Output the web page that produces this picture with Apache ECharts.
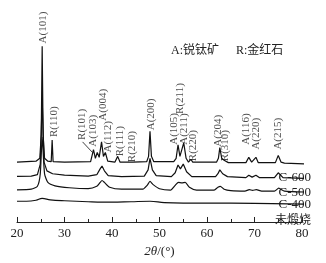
<!DOCTYPE html>
<html>
<head>
<meta charset="utf-8">
<script src="https://cdn.jsdelivr.net/npm/echarts@6/dist/echarts.min.js"></script>
<style>
  html, body { margin: 0; padding: 0; background: #fff; }
  #chart { width: 326px; height: 263px; }
</style>
</head>
<body>
<div id="chart"></div>
<script>
// 2θ (°) vs relative intensity, curves already offset vertically
const c600 = [[20,62],[22,62.5],[24,63],[24.8,66],[25.1,90],[25.3,182],[25.5,90],[25.8,66],[26.5,63],[27.2,62.5],[27.4,85],[27.6,62.5],
  [30,62],[35.5,62.5],[36.1,75],[36.5,66],[36.9,72],[37.3,67],[37.8,83],[38.2,68],[38.6,72],[39.1,63],[40.6,62],[41.2,68],[41.7,62],
  [43.6,62],[44.0,64],[44.4,62],[47.3,62.5],[47.7,68],[48.0,94],[48.3,68],[48.8,62.5],[53.0,62.5],[53.5,66],[53.9,80],[54.3,68],
  [54.6,70],[55.1,82],[55.6,66],[56.1,62],[56.6,65],[57.0,62],[62.0,62],[62.4,66],[62.7,77],[63.1,66],[63.6,64],[64.0,65],[64.5,61.5],
  [68.2,61.5],[68.8,67],[69.4,62],[69.8,62],[70.3,67],[70.8,61.5],[74.4,61.5],[75.0,69],[75.6,62],[76.3,61],[81.5,60]]
const c500 = [[20,47.3],[23,47.5],[24.3,49],[24.9,60],[25.3,127],[25.7,62],[26.3,53],[27.5,50],[30,48.5],[35,47.5],[36.8,49],[37.5,55],
  [37.9,58],[38.4,53],[39.2,48],[42,47],[46.8,47.5],[47.6,54],[48.0,66],[48.5,54],[49.3,48],[52.5,47],[53.3,51],[53.9,59],[54.4,55],
  [55.0,60],[55.7,52],[56.8,47],[61.8,47],[62.3,50],[62.7,54],[63.3,50],[64.3,47],[68.2,46],[68.8,48.5],[69.5,46.5],[70.3,48.5],
  [71.0,46],[74.2,46],[75.0,51],[76.0,46],[81.5,45]]
const c400 = [[20,33.3],[23,34],[24.3,37],[24.9,50],[25.3,88],[25.8,50],[26.5,41],[28,37.5],[31,35.5],[35,34.5],[36.8,37],[37.5,41],
  [37.9,43],[38.4,41],[39.5,36],[42,34],[46.5,34],[47.4,38],[48.0,42],[48.6,39],[50,34.5],[52.3,33],[53.3,38],[54.0,41],[54.7,40.5],
  [55.4,41],[56.3,36],[57.8,33],[61.5,33],[62.3,36],[62.8,37],[63.6,34],[65,32.5],[68,32],[68.9,33.5],[69.6,32.8],[70.4,33.5],
  [71.5,32],[74.2,32],[75.1,35],[76.3,32],[81.5,31]]
const uncalcined = [[20,21.5],[22,21.5],[24,22.5],[25.3,24.5],[27,23],[30,22],[35,21],[40,20.5],[44,21],[48,21.5],[51,20],
  [55,19.5],[60,19.5],[70,19.3],[81.5,18.5]]

// peak labels: [text, 2θ, value at label foot]
const peakLabels = [
  ['A(101)', 25.4, 185], ['R(110)', 27.8, 88], ['R(101)', 33.7, 85], ['A(103)', 36.0, 78],
  ['A(004)', 38.1, 105], ['A(112)', 39.2, 72], ['R(111)', 41.7, 68], ['R(210)', 44.2, 62],
  ['A(200)', 48.2, 95], ['A(105)', 53.1, 80], ['R(211)', 54.3, 112], ['A(211)', 55.2, 80],
  ['R(220)', 57.1, 63], ['A(204)', 62.3, 78], ['R(310)', 63.8, 63], ['A(116)', 68.2, 80],
  ['A(220)', 70.3, 75], ['A(215)', 75.0, 75]
]
const leaderR101 = [[33.8, 83], [35.9, 72]]
const xTicks = { min: 20, max: 80, interval: 10 }

const serif = '"Liberation Serif", "Noto Sans CJK SC", serif'
const myChart = echarts.init(document.getElementById('chart'))

function curve(data, smooth) {
  return {
    type: 'line',
    data: data,
    symbol: 'none',
    smooth: smooth,
    clip: false,
    silent: true,
    lineStyle: { color: '#111', width: 1.2 }
  }
}

const option = {
  animation: false,
  grid: { left: 17, right: 24, top: 0, bottom: 33 },
  xAxis: {
    type: 'value',
    min: xTicks.min,
    max: xTicks.max,
    interval: xTicks.interval,
    name: '{i|2θ}/(°)',
    nameLocation: 'middle',
    nameGap: 23,
    nameTextStyle: {
      fontFamily: serif, fontSize: 13, color: '#222',
      rich: { i: { fontFamily: serif, fontSize: 13, fontStyle: 'italic', color: '#222' } }
    },
    axisLine: { lineStyle: { color: '#222', width: 1 } },
    axisTick: { inside: true, length: 5, lineStyle: { color: '#222' } },
    minorTick: { show: true, splitNumber: 2, length: 3, lineStyle: { color: '#222' } },
    axisLabel: { fontFamily: serif, fontSize: 13, color: '#222', margin: 5 },
    splitLine: { show: false }
  },
  yAxis: { type: 'value', min: 0, max: 230, show: false },
  series: [
    curve(c600, false),
    curve(c500, false),
    curve(c400, 0.2),
    curve(uncalcined, 0.4),
    {
      type: 'line', data: leaderR101, symbol: 'none', silent: true,
      lineStyle: { color: '#111', width: 0.8 }
    },
    {
      type: 'scatter',
      silent: true,
      symbolSize: 0,
      itemStyle: { color: 'transparent' },
      data: peakLabels.map(p => ({ value: [p[1], p[2]], name: p[0] })),
      label: {
        show: true,
        position: 'inside',
        rotate: 90,
        align: 'left',
        verticalAlign: 'middle',
        formatter: '{b}',
        fontFamily: serif,
        fontSize: 11,
        color: '#222'
      }
    }
  ],
  graphic: [
    { type: 'text', left: 171, top: 45, style: { text: 'A:锐钛矿', font: '12px ' + serif, fill: '#222' } },
    { type: 'text', left: 236, top: 45, style: { text: 'R:金红石', font: '12px ' + serif, fill: '#222' } },
    { type: 'text', right: 15, top: 171, style: { text: 'C-600', font: '13px ' + serif, fill: '#222' } },
    { type: 'text', right: 15, top: 186, style: { text: 'C-500', font: '13px ' + serif, fill: '#222' } },
    { type: 'text', right: 15, top: 198, style: { text: 'C-400', font: '13px ' + serif, fill: '#222' } },
    { type: 'text', right: 15, top: 215, style: { text: '未煅烧', font: '12px ' + serif, fill: '#222' } }
  ]
}

myChart.setOption(option)
</script>
</body>
</html>
